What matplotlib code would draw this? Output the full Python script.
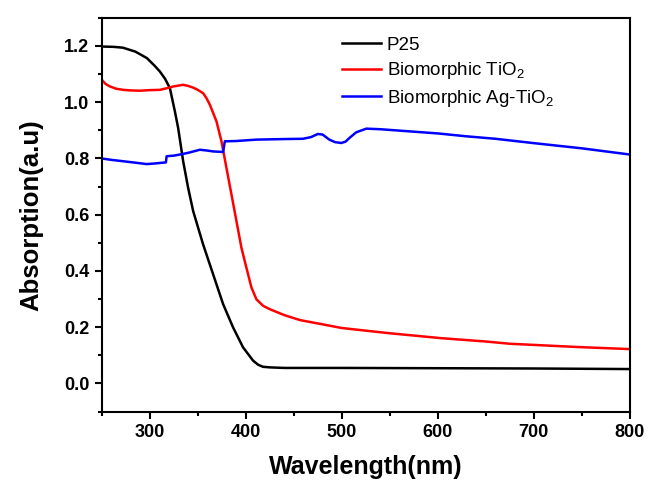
import numpy as np
import matplotlib
matplotlib.use('Agg')
from matplotlib import pyplot as plt
from matplotlib.ticker import MultipleLocator

plt.rcParams['font.family'] = ['Liberation Sans', 'DejaVu Sans']
plt.rcParams['mathtext.default'] = 'regular'

# P25
wl_p25 = [250, 262, 272, 285, 297, 305, 310.6, 316, 321, 326.2, 329.6, 334.8, 340, 345.2,
          355.6, 366, 376.4, 386.8, 397.2, 407.6, 413, 418, 425, 440, 500, 600, 700, 800]
abs_p25 = [1.198, 1.197, 1.194, 1.18, 1.157, 1.13, 1.109, 1.083, 1.05, 0.967, 0.908, 0.79,
           0.695, 0.613, 0.494, 0.388, 0.282, 0.199, 0.128, 0.081, 0.066, 0.059, 0.057, 0.055,
           0.055, 0.054, 0.053, 0.051]

# Biomorphic TiO2
wl_tio2 = [250, 254, 258.6, 265, 272.5, 280, 290, 300, 310.6, 318, 324.4, 334.8, 340, 345.2,
           350, 355.6, 359, 362.6, 369.5, 374.7, 379.9, 385.1, 390.3, 395.5, 400.7, 405.9, 411.1,
           418, 425, 440, 456.7, 480, 500, 548, 603, 650, 675, 748, 800]
abs_tio2 = [1.08, 1.065, 1.056, 1.048, 1.044, 1.042, 1.041, 1.043, 1.044, 1.05, 1.056, 1.062,
            1.058, 1.052, 1.044, 1.032, 1.015, 0.991, 0.932, 0.861, 0.766, 0.672, 0.577, 0.482,
            0.411, 0.341, 0.299, 0.276, 0.264, 0.243, 0.225, 0.21, 0.197, 0.179, 0.161, 0.149,
            0.141, 0.129, 0.122]

# Biomorphic Ag-TiO2
wl_ag = [250, 260, 272.5, 285, 296.8, 305, 310.6, 316.8, 317.6, 325, 331.4, 340, 352.2, 360,
         366, 376.4, 378.2, 390, 411, 440, 459.6, 468, 475, 480, 487, 493, 499.5, 504, 508, 515,
         525.5, 540, 560, 600, 629, 660, 698.6, 750, 800]
abs_ag = [0.80, 0.795, 0.79, 0.785, 0.78, 0.782, 0.784, 0.786, 0.808, 0.81, 0.814, 0.82, 0.831,
          0.828, 0.825, 0.823, 0.861, 0.862, 0.867, 0.869, 0.87, 0.876, 0.887, 0.885, 0.867,
          0.858, 0.855, 0.86, 0.873, 0.893, 0.906, 0.904, 0.899, 0.889, 0.879, 0.87, 0.855,
          0.836, 0.814]

labels = ['P25', 'Biomorphic TiO$_2$', 'Biomorphic Ag-TiO$_2$']

fig = plt.figure(figsize=(6.48, 4.83), dpi=100)
ax = fig.add_axes([0.157, 0.148, 0.815, 0.815])

ax.plot(wl_p25, abs_p25, color='black', lw=1.8, label=labels[0])
ax.plot(wl_tio2, abs_tio2, color='#ff0000', lw=1.8, label=labels[1])
ax.plot(wl_ag, abs_ag, color='#0000ff', lw=1.8, label=labels[2])

ax.set_xlim(250, 800)
ax.set_ylim(-0.1, 1.3)
ax.xaxis.set_minor_locator(MultipleLocator(50))
ax.yaxis.set_minor_locator(MultipleLocator(0.1))
ax.set_xticks([300, 400, 500, 600, 700, 800])
ax.set_yticks([0.0, 0.2, 0.4, 0.6, 0.8, 1.0, 1.2])
ax.yaxis.set_major_formatter(plt.FormatStrFormatter('%.1f'))

for s in ax.spines.values():
    s.set_linewidth(1.5)
ax.tick_params(which='major', direction='out', length=5, width=1.5, labelsize=13, pad=4)
ax.tick_params(which='minor', direction='out', length=3, width=1.5)
for lab in ax.get_xticklabels() + ax.get_yticklabels():
    lab.set_fontweight('bold')

ax.set_xlabel('Wavelength(nm)', fontsize=18, fontweight='bold', labelpad=10)
ax.set_ylabel('Absorption(a.u)', fontsize=18.5, fontweight='bold', labelpad=15)

ax.legend(loc='upper left', bbox_to_anchor=(0.454, 0.952), frameon=False, fontsize=13.5,
          handlelength=2.1, handletextpad=0.3, borderpad=0, borderaxespad=0, labelspacing=0.35)

fig.savefig('out.png', dpi=100)
